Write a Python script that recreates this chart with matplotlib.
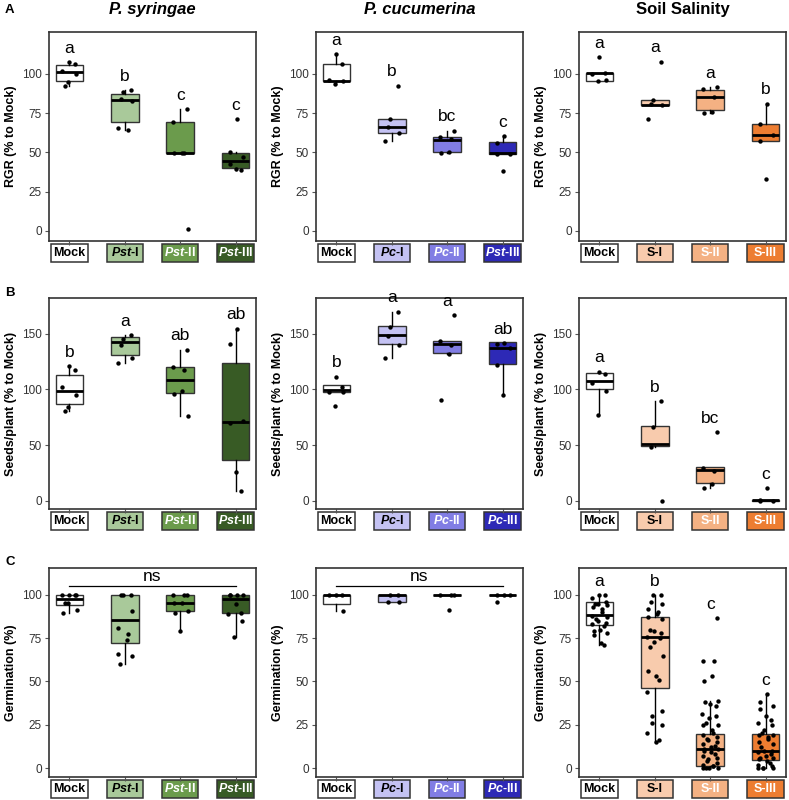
import numpy as np
import matplotlib
matplotlib.use("Agg")
import matplotlib.pyplot as plt
from matplotlib.patches import Rectangle
from matplotlib.transforms import blended_transform_factory

plt.rcParams['font.family'] = ['Liberation Sans', 'DejaVu Sans']
plt.rcParams['mathtext.fontset'] = 'custom'
plt.rcParams['mathtext.it'] = 'Liberation Sans:italic:bold'
plt.rcParams['mathtext.rm'] = 'Liberation Sans:bold'
plt.rcParams['mathtext.bf'] = 'Liberation Sans:bold'

# ---- data ----
# box stats are (lower whisker, q1, median, q3, upper whisker)
rgr_pst_pts = [[107.4, 106.6, 101.9, 100.2, 94.9, 92.2], [89.6, 88.6, 83.9, 82.6, 65.7, 64.6],
               [77.5, 69.1, 49.6, 49.6, 49.6, 1.3], [71.2, 50.0, 46.8, 42.8, 39.4, 38.8]]
rgr_pst_box = [(92.2, 95.5, 101.5, 105.5, 107.4), (64.6, 69.5, 83.3, 87.1, 89.6),
               (49.4, 49.4, 49.6, 69.1, 77.5), (38.8, 40.0, 44.5, 49.4, 50.0)]
rgr_pc_pts = [[112.5, 106.1, 96.0, 95.5, 93.4], [92.5, 71.0, 66.0, 62.5, 57.2],
              [63.8, 60.0, 58.7, 50.4, 49.4], [60.2, 55.9, 49.2, 48.7, 38.3]]
rgr_pc_box = [(93.4, 95.3, 95.3, 106.6, 112.5), (57.2, 62.5, 66.0, 71.2, 71.2),
              (49.4, 50.2, 57.8, 60.0, 63.8), (48.7, 49.2, 49.6, 56.4, 60.2)]
rgr_salt_pts = [[110.8, 100.6, 100.2, 96.0, 95.5], [107.8, 83.5, 80.7, 79.9, 71.6],
                [91.7, 90.7, 85.0, 75.8, 75.2], [81.1, 68.4, 61.0, 57.4, 33.0]]
rgr_salt_box = [(95.5, 95.8, 100.6, 100.6, 100.6), (79.9, 80.1, 80.5, 83.7, 83.7),
                (75.2, 77.3, 85.0, 90.0, 91.7), (57.4, 57.4, 61.0, 68.4, 81.1)]

seed_pst_pts = [[121.0, 117.0, 102.3, 95.1, 84.5, 80.9], [148.8, 144.9, 140.0, 128.6, 123.8],
                [135.5, 120.0, 117.7, 99.0, 96.0, 76.0], [154.5, 140.7, 71.5, 70.3, 26.0, 8.5]]
seed_pst_box = [(80.9, 86.9, 98.7, 112.9, 121.0), (123.8, 131.0, 142.5, 147.3, 148.8),
                (76.0, 96.6, 108.4, 119.8, 135.5), (8.5, 36.8, 71.0, 123.8, 154.5)]
seed_pc_pts = [[111.5, 102.2, 98.0, 97.4, 85.0], [169.8, 155.7, 147.9, 139.8, 128.3],
               [166.5, 143.0, 139.5, 132.0, 90.8], [141.3, 140.4, 136.8, 121.7, 94.7]]
seed_pc_box = [(97.4, 98.0, 99.5, 103.7, 103.7), (128.3, 140.7, 148.8, 156.9, 169.8),
               (132.0, 132.5, 140.4, 143.7, 143.7), (94.7, 122.9, 137.0, 142.2, 142.2)]
seed_salt_pts = [[116.0, 113.9, 106.1, 98.9, 77.2], [89.3, 66.1, 48.1, 0.0],
                 [61.9, 29.8, 26.5, 15.3, 12.0], [11.7, 0.9, 0.0, 0.0]]
seed_salt_box = [(77.2, 100.4, 107.3, 114.8, 116.0), (48.1, 49.3, 51.1, 67.6, 89.3),
                 (12.0, 16.5, 27.7, 30.7, 30.7), (0.0, 0.0, 0.5, 1.0, 1.0)]

germ_pst_pts = [[100, 100, 100, 100, 95.4, 95.4, 91.3, 89.7],
                [100, 100, 100, 90.7, 81.2, 77.4, 73.9, 66, 65, 60],
                [100, 100, 100, 95.4, 95.4, 91, 89.7, 79],
                [100, 100, 100, 100, 95, 89.5, 89, 85, 76]]
germ_pst_box = [(89.7, 94, 97.9, 100, 100), (60, 72, 85.7, 100, 100),
                (79, 90.7, 95.4, 100, 100), (76, 89.7, 97.7, 100, 100)]
germ_pc_pts = [[100, 100, 100, 90.5], [100, 100, 96, 96], [100, 100, 100, 91.6], [100, 100, 100, 96]]
germ_pc_box = [(90.5, 95, 100, 100, 100), (96, 96, 100, 100, 100),
               (100, 100, 100, 100, 100), (100, 100, 100, 100, 100)]
germ_salt_pts = [
    [100, 100, 98, 96, 95, 95, 94, 93, 92, 90, 88, 87, 86, 85, 84, 83, 82, 80, 79, 78, 77, 72, 71],
    [100, 100, 96, 95, 92, 90, 89, 87, 86, 80, 79, 78, 76, 75, 73, 70, 65, 56, 53, 51, 44, 33, 30,
     26, 25, 20, 16, 15],
    [86.5, 62, 62, 53, 50, 39, 38, 37, 36, 31, 30, 29, 26, 25, 25, 22, 20, 19, 18, 17, 16, 15, 14,
     13, 12, 11, 11, 10, 9, 8, 7, 6, 5, 4, 3, 2, 1, 1, 0, 0, 0, 0],
    [42.5, 38, 36, 34, 30, 28, 26, 25, 22, 20, 19, 19, 18, 17, 15, 14, 12, 10, 10, 9, 8, 7, 6, 6,
     5, 4, 3, 2, 1, 0, 0, 0, 0]]
germ_salt_box = [(71, 82.8, 88.4, 95.7, 100), (15, 46, 75.6, 87.2, 100),
                 (0, 1.4, 11.2, 19.9, 39), (0, 4.4, 9.9, 19.9, 42.5)]

pst_labels = ["Mock", r"$\mathit{Pst}$-I", r"$\mathit{Pst}$-II", r"$\mathit{Pst}$-III"]
pc_labels = ["Mock", r"$\mathit{Pc}$-I", r"$\mathit{Pc}$-II", r"$\mathit{Pc}$-III"]
pc_labels_a = ["Mock", r"$\mathit{Pc}$-I", r"$\mathit{Pc}$-II", r"$\mathit{Pst}$-III"]
salt_labels = ["Mock", "S-I", "S-II", "S-III"]

pst_colors = ["#ffffff", "#a9c99a", "#6b9b4c", "#385b25"]
pc_colors = ["#ffffff", "#c4c2f3", "#817de4", "#2d29b6"]
salt_colors = ["#ffffff", "#f8cbad", "#f4b183", "#ed7d31"]
label_colors = ["black", "black", "white", "white"]

letters_rgr = [["a", "b", "c", "c"], ["a", "b", "bc", "c"], ["a", "a", "a", "b"]]
letters_seed = [["b", "a", "ab", "ab"], ["b", "a", "a", "ab"], ["a", "b", "bc", "c"]]
letters_germ = [None, None, ["a", "b", "c", "c"]]

titles = ["P. syringae", "P. cucumerina", "Soil Salinity"]

W, H = 789, 800
col_left = [49, 316, 579]
col_w = 207
rows = [(32, 209), (298, 211), (568, 209)]  # top, height in px

fig = plt.figure(figsize=(W / 100, H / 100), dpi=100)
edge = "#333333"


def panel(ax, pts, box, labels, colors, letters, ylim, yticks, ylabel, h_px, ns=False):
    x = np.arange(1, 5)
    stats = []
    for b in box:
        stats.append(dict(whislo=b[0], q1=b[1], med=b[2], q3=b[3], whishi=b[4]))
    bp = ax.bxp(stats, positions=x, widths=0.5, patch_artist=True, showfliers=False,
                showcaps=False,
                boxprops=dict(edgecolor=edge, linewidth=1.0),
                whiskerprops=dict(color="black", linewidth=1.0),
                medianprops=dict(color="black", linewidth=2.0))
    for patch, c in zip(bp["boxes"], colors):
        patch.set_facecolor(c)
    for i, p in enumerate(pts):
        n = len(p)
        jit = 0.14 * np.sin(np.arange(n) * 2.4 + i)
        ax.scatter(x[i] + jit, p, s=10, color="black", zorder=3, linewidths=0)
    if letters is not None:
        for i, p in enumerate(pts):
            ax.annotate(letters[i], (x[i], max(p)), xytext=(0, 10), textcoords="offset points",
                        ha="center", va="center", fontsize=12.5)
    if ns:
        ax.plot([1, 4], [105.4, 105.4], color="black", lw=0.9)
        ax.text(2.5, 110.8, "ns", ha="center", va="center", fontsize=12.5)
    ax.set_xlim(0.63, 4.37)
    ax.set_ylim(*ylim)
    ax.set_yticks(yticks)
    ax.set_xticks(x)
    ax.set_xticklabels([])
    ax.tick_params(axis="both", colors="#555555", length=3, width=0.8, labelsize=8.5,
                   labelcolor="#333333", pad=2)
    for s in ax.spines.values():
        s.set_color(edge)
        s.set_linewidth(1.2)
    ax.set_ylabel(ylabel, fontsize=9, fontweight="bold", labelpad=4)
    # boxed category labels below the axes
    tr = blended_transform_factory(ax.transData, ax.transAxes)
    gap, bh, bw = 2.5 / h_px, 18.5 / h_px, 0.66
    for i in range(4):
        ax.add_patch(Rectangle((x[i] - bw / 2, -gap - bh), bw, bh, transform=tr,
                               facecolor=colors[i], edgecolor=edge, lw=1.1, clip_on=False))
        ax.text(x[i], -gap - bh / 2, labels[i], transform=tr, ha="center", va="center",
                fontsize=9, fontweight="bold", color=label_colors[i])


panels = [
    [(rgr_pst_pts, rgr_pst_box, pst_labels, pst_colors),
     (rgr_pc_pts, rgr_pc_box, pc_labels_a, pc_colors),
     (rgr_salt_pts, rgr_salt_box, salt_labels, salt_colors)],
    [(seed_pst_pts, seed_pst_box, pst_labels, pst_colors),
     (seed_pc_pts, seed_pc_box, pc_labels, pc_colors),
     (seed_salt_pts, seed_salt_box, salt_labels, salt_colors)],
    [(germ_pst_pts, germ_pst_box, pst_labels, pst_colors),
     (germ_pc_pts, germ_pc_box, pc_labels, pc_colors),
     (germ_salt_pts, germ_salt_box, salt_labels, salt_colors)],
]
row_letters = [letters_rgr, letters_seed, letters_germ]
row_ylim = [(-6.4, 126.7), (-7.2, 182), (-5.2, 115.6)]
row_ticks = [[0, 25, 50, 75, 100], [0, 50, 100, 150], [0, 25, 50, 75, 100]]
row_ylabel = ["RGR (% to Mock)", "Seeds/plant (% to Mock)", "Germination (%)"]

for r in range(3):
    top, hp = rows[r]
    for c in range(3):
        ax = fig.add_axes([col_left[c] / W, 1 - (top + hp) / H, col_w / W, hp / H])
        pts, box, labels, colors = panels[r][c]
        panel(ax, pts, box, labels, colors, row_letters[r][c], row_ylim[r], row_ticks[r],
              row_ylabel[r], hp, ns=(r == 2 and c < 2))
        if r == 0:
            style = "italic" if c < 2 else "normal"
            ax.set_title(titles[c], fontsize=12, fontweight="bold", style=style, pad=13)

for lab, ypx in zip(["A", "B", "C"], [10, 293, 562]):
    fig.text(5 / W, 1 - ypx / H, lab, fontsize=9.5, fontweight="bold", va="center")

fig.savefig("out.png", dpi=100)
